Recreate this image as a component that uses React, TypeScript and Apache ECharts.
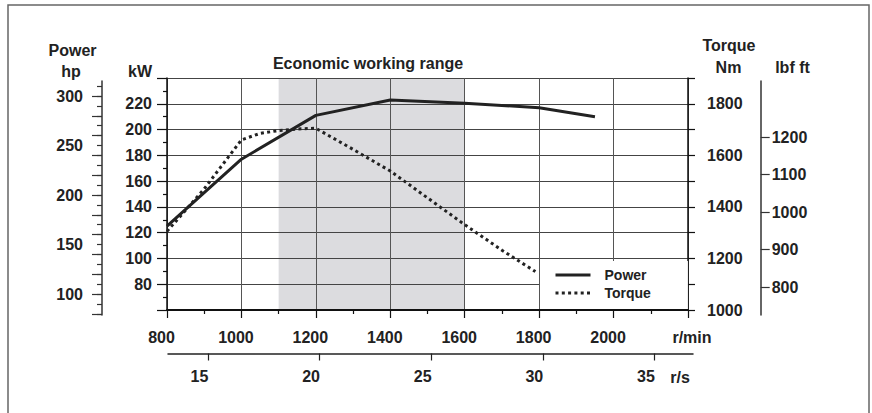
import React, { useEffect, useRef } from "react";
import * as echarts from "echarts";

// ---- data ----
const powerRpm = [800, 900, 1000, 1200, 1400, 1600, 1800, 1950];
const powerKw = [125, 151, 177, 211, 223, 220.5, 217, 210];
const torqueRpm = [800, 900, 1000, 1050, 1100, 1150, 1200, 1300, 1400, 1500, 1600, 1700, 1790];
const torqueNm = [1305, 1470, 1660, 1685, 1696, 1702, 1705, 1623, 1539, 1435, 1331, 1232, 1149];
const economicRange = [1100, 1600];
const seriesNames = ["Power", "Torque"];
const titleTexts = {
  power: "Power",
  hp: "hp",
  kw: "kW",
  econ: "Economic working range",
  torque: "Torque",
  nm: "Nm",
  lbf: "lbf ft",
  rpm: "r/min",
  rps: "r/s",
};

const FONT = "'Liberation Sans', Arial, Helvetica, sans-serif";
const INK = "#222";

const lbl = (extra: any = {}) => ({
  color: INK,
  fontFamily: FONT,
  fontWeight: "bold",
  fontSize: 16,
  ...extra,
});

const hiddenAxis = (gridIndex: number) => ({
  type: "value",
  gridIndex,
  show: false,
  min: 0,
  max: 1,
});

const txt = (text: string, x: number, y: number, size = 16) => ({
  type: "text",
  x,
  y,
  silent: true,
  style: {
    text,
    fill: INK,
    font: `bold ${size}px ${FONT}`,
    align: "center",
    verticalAlign: "middle",
  },
});

export default function App() {
  const ref = useRef<HTMLDivElement>(null);
  useEffect(() => {
    if (!ref.current) return;
    const chart = echarts.init(ref.current, undefined, { renderer: "svg" });
    const option: any = {
      animation: false,
      backgroundColor: "#fff",
      grid: [
        { left: 167, top: 78, width: 521, height: 232 }, // 0 main
        { left: 102, top: 81, width: 10, height: 234 }, // 1 hp line
        { left: 102, top: 86.1, width: 10, height: 227.7 }, // 2 hp ticks 10
        { left: 102, top: 96, width: 10, height: 217.8 }, // 3 hp ticks 20
        { left: 750.7, top: 81, width: 10, height: 234 }, // 4 lbf line
        { left: 750.7, top: 137, width: 10, height: 150 }, // 5 lbf ticks
        { left: 168, top: 352.5, width: 525, height: 1 }, // 6 r/s line
        { left: 208, top: 352.5, width: 446.4, height: 1 }, // 7 r/s ticks
      ],
      xAxis: [
        {
          type: "value",
          gridIndex: 0,
          z: 1.5,
          min: 800,
          max: 2200,
          interval: 200,
          position: "bottom",
          axisLine: { show: true, onZero: false, lineStyle: { color: "#111", width: 2 } },
          axisTick: { show: true, length: 8, lineStyle: { color: "#111", width: 1.2 } },
          minorTick: { show: true, splitNumber: 2, length: 4, lineStyle: { color: "#111", width: 1.2 } },
          axisLabel: lbl({
            margin: 19,
            padding: [0, 11, 0, 0],
            formatter: (v: number) => (v === 2200 ? "" : String(v)),
          }),
          splitLine: { show: true, lineStyle: { color: "#555", width: 1 } },
        },
        hiddenAxis(1),
        hiddenAxis(2),
        hiddenAxis(3),
        hiddenAxis(4),
        hiddenAxis(5),
        {
          type: "value",
          gridIndex: 6,
          min: 0,
          max: 1,
          axisLine: { show: true, onZero: false, lineStyle: { color: "#222", width: 1.5 } },
          axisTick: { show: false },
          axisLabel: { show: false },
          splitLine: { show: false },
        },
        {
          type: "value",
          gridIndex: 7,
          min: 15,
          max: 35,
          interval: 5,
          axisLine: { show: false, onZero: false },
          axisTick: { show: true, length: 7, lineStyle: { color: "#222", width: 1.2 } },
          axisLabel: lbl({ margin: 15, padding: [0, 17, 0, 0], formatter: (v: number) => String(v) }),
          splitLine: { show: false },
        },
      ],
      yAxis: [
        {
          type: "value",
          gridIndex: 0,
          z: 1.5,
          position: "left",
          min: 60,
          max: 240,
          interval: 20,
          axisLine: { show: true, onZero: false, lineStyle: { color: "#111", width: 1.5 } },
          axisTick: { show: true, length: 10, lineStyle: { color: "#111", width: 1.2 } },
          minorTick: { show: true, splitNumber: 2, length: 4, lineStyle: { color: "#111", width: 1.2 } },
          axisLabel: lbl({
            margin: 15,
            formatter: (v: number) => (v === 60 || v === 240 ? "" : String(v)),
          }),
          splitLine: { show: true, lineStyle: { color: "#444", width: 1 } },
        },
        {
          type: "value",
          gridIndex: 0,
          z: 1.5,
          position: "right",
          min: 1000,
          max: 1900,
          interval: 100,
          axisLine: { show: true, onZero: false, lineStyle: { color: "#111", width: 1.5 } },
          axisTick: { show: true, length: 7, lineStyle: { color: "#111", width: 1.2 } },
          axisLabel: lbl({
            margin: 19,
            formatter: (v: number) => (v % 200 === 0 ? String(v) : ""),
          }),
          splitLine: { show: false },
        },
        {
          type: "value",
          gridIndex: 1,
          position: "left",
          min: 0,
          max: 1,
          axisLine: { show: true, onZero: false, lineStyle: { color: "#333", width: 1.5 } },
          axisTick: { show: false },
          axisLabel: { show: false },
          splitLine: { show: false },
        },
        {
          type: "value",
          gridIndex: 2,
          position: "left",
          min: 80,
          max: 310,
          interval: 10,
          axisLine: { show: false, onZero: false },
          axisTick: { show: true, length: 5, lineStyle: { color: "#333", width: 1.2 } },
          axisLabel: lbl({
            margin: 19,
            formatter: (v: number) => (v % 50 === 0 ? String(v) : ""),
          }),
          splitLine: { show: false },
        },
        {
          type: "value",
          gridIndex: 3,
          position: "left",
          min: 80,
          max: 300,
          interval: 20,
          axisLine: { show: false, onZero: false },
          axisTick: { show: true, length: 10, lineStyle: { color: "#333", width: 1.2 } },
          axisLabel: { show: false },
          splitLine: { show: false },
        },
        {
          type: "value",
          gridIndex: 4,
          position: "right",
          min: 0,
          max: 1,
          axisLine: { show: true, onZero: false, lineStyle: { color: "#333", width: 1.5 } },
          axisTick: { show: false },
          axisLabel: { show: false },
          splitLine: { show: false },
        },
        {
          type: "value",
          gridIndex: 5,
          position: "right",
          min: 800,
          max: 1200,
          interval: 100,
          axisLine: { show: false, onZero: false },
          axisTick: { show: true, length: 9, lineStyle: { color: "#333", width: 1.2 } },
          axisLabel: lbl({ margin: 11, formatter: (v: number) => String(v) }),
          splitLine: { show: false },
        },
        hiddenAxis(6),
        hiddenAxis(7),
      ],
      legend: {
        data: seriesNames,
        orient: "vertical",
        left: 540,
        top: 261,
        itemWidth: 35,
        itemHeight: 14,
        itemGap: 4,
        padding: [7, 37, 9, 14],
        backgroundColor: "#fff",
        selectedMode: false,
        itemStyle: { opacity: 0 },
        lineStyle: { width: 3 },
        textStyle: {
          fontFamily: FONT,
          fontWeight: "bold",
          fontSize: 14,
          color: INK,
          padding: [0, 0, 0, 9],
        },
      },
      series: [
        {
          type: "line",
          name: seriesNames[0],
          xAxisIndex: 0,
          yAxisIndex: 0,
          z: 3,
          data: powerRpm.map((r, i) => [r, powerKw[i]]),
          symbol: "none",
          showSymbol: false,
          lineStyle: { color: INK, width: 3 },
          itemStyle: { color: INK },
          markArea: {
            silent: true,
            z: 1,
            itemStyle: { color: "#dcdcdf" },
            data: [[{ xAxis: economicRange[0] }, { xAxis: economicRange[1] }]],
          },
        },
        {
          type: "line",
          name: seriesNames[1],
          xAxisIndex: 0,
          yAxisIndex: 1,
          z: 3,
          data: torqueRpm.map((r, i) => [r, torqueNm[i]]),
          symbol: "none",
          showSymbol: false,
          lineStyle: { color: INK, width: 3, type: [3, 3.3] },
          itemStyle: { color: INK },
        },
      ],
      graphic: [
        {
          type: "rect",
          silent: true,
          shape: { x: 8, y: 5, width: 861, height: 430 },
          style: { fill: "none", stroke: "#666", lineWidth: 1.5 },
        },
        txt(titleTexts.power, 72.5, 50),
        txt(titleTexts.hp, 71, 71),
        txt(titleTexts.kw, 140, 71),
        txt(titleTexts.econ, 368, 63),
        txt(titleTexts.torque, 729, 45),
        txt(titleTexts.nm, 728.5, 67),
        txt(titleTexts.lbf, 792.5, 67),
        txt(titleTexts.rpm, 692, 337),
        txt(titleTexts.rps, 680, 377),
      ],
    };
    chart.setOption(option);
    return () => chart.dispose();
  }, []);
  return (
    <div
      ref={ref}
      style={{ position: "absolute", left: 0, top: 0, width: 872, height: 413 }}
    />
  );
}
